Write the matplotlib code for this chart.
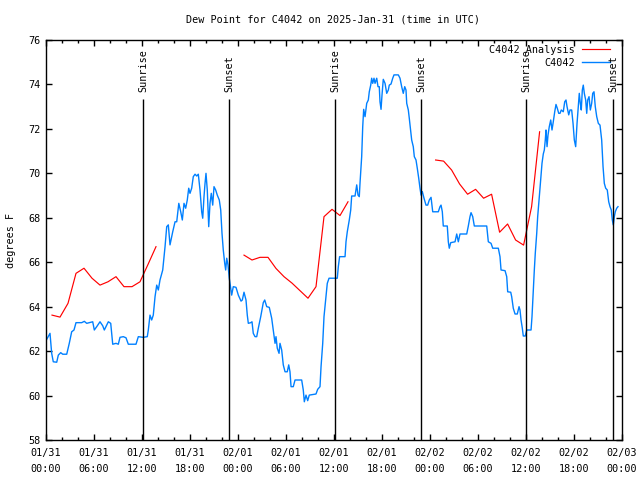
import numpy as np
import pandas as pd
import matplotlib
matplotlib.use("Agg")
import matplotlib.pyplot as plt
import matplotlib.dates as mdates
from matplotlib.lines import Line2D

plt.rcParams['font.family'] = ['DejaVu Sans Mono']
plt.rcParams['font.size'] = 7

START = pd.Timestamp("2025-01-31 00:00")

# C4042 observations (hours since 01/31 00:00 UTC, dew point in F)
obs_hours = [
    0.09, 0.5, 0.71, 0.91, 1.34, 1.54, 1.84, 2.09, 2.59, 2.91, 3.21, 3.5, 3.75, 4.46, 4.79,
    5.09, 5.84, 6.04, 6.34, 6.75, 7.09, 7.29, 7.79, 8.09, 8.34, 8.75, 9.04, 9.25, 9.66, 10.0,
    10.29, 11.25, 11.54, 12.16, 12.66, 12.79, 13.0, 13.21, 13.41, 13.63, 13.84, 14.04, 14.25,
    14.59, 14.88, 15.09, 15.29, 15.5, 15.84, 16.13, 16.34, 16.6, 16.84, 17.04, 17.25, 17.46,
    17.66, 17.84, 18.0, 18.21, 18.41, 18.63, 18.84, 19.04, 19.25, 19.46, 19.59, 19.75, 19.88,
    20.0, 20.16, 20.34, 20.5, 20.66, 20.84, 21.0, 21.21, 21.41, 21.66, 21.84, 22.0, 22.16,
    22.34, 22.46, 22.59, 22.75, 22.91, 23.21, 23.41, 23.75, 24.04, 24.38, 24.54, 24.75, 25.0,
    25.16, 25.29, 25.59, 25.75, 25.91, 26.13, 26.34, 26.54, 26.84, 27.16, 27.34, 27.59, 27.91,
    28.21, 28.41, 28.63, 28.75, 28.91, 29.13, 29.25, 29.46, 29.66, 29.88, 30.16, 30.34, 30.5,
    30.63, 30.91, 31.13, 31.96, 32.16, 32.29, 32.5, 32.71, 32.91, 33.75, 33.96, 34.25, 34.38,
    34.59, 34.75, 34.96, 35.16, 35.38, 36.41, 36.54, 36.7, 37.38, 37.5, 37.66, 37.91, 38.09,
    38.21, 38.63, 38.84, 39.0, 39.16, 39.25, 39.46, 39.59, 39.71, 39.88, 40.09, 40.29, 40.41,
    40.59, 40.71, 40.84, 41.0, 41.13, 41.34, 41.5, 41.66, 41.75, 41.88, 42.0, 42.16, 42.38,
    42.59, 42.79, 42.91, 43.13, 43.34, 43.5, 44.04, 44.25, 44.46, 44.66, 44.84, 45.0, 45.09,
    45.29, 45.41, 45.59, 45.71, 45.91, 46.04, 46.25, 46.41, 46.59, 46.75, 46.88, 47.04, 47.25,
    47.5, 47.71, 47.91, 48.13, 48.34, 49.04, 49.25, 49.38, 49.54, 49.66, 50.16, 50.29, 50.41,
    50.59, 51.13, 51.34, 51.54, 51.75, 52.59, 52.79, 53.0, 53.13, 53.34, 53.54, 55.09, 55.29,
    55.63, 55.84, 56.54, 56.75, 56.88, 57.38, 57.59, 57.71, 58.09, 58.21, 58.41, 58.63, 58.91,
    59.13, 59.25, 59.38, 59.54, 59.66, 59.91, 60.09, 60.63, 60.75, 60.91, 61.04, 61.16, 61.34,
    61.46, 61.59, 61.75, 61.88, 62.0, 62.16, 62.29, 62.41, 62.5, 62.63, 62.75, 62.91, 63.09,
    63.25, 63.41, 63.59, 63.75, 63.91, 64.09, 64.25, 64.41, 64.66, 64.84, 65.0, 65.13, 65.34,
    65.5, 65.71, 65.88, 66.04, 66.21, 66.38, 66.54, 66.66, 66.79, 66.91, 67.04, 67.16, 67.29,
    67.46, 67.59, 67.71, 67.88, 68.04, 68.21, 68.34, 68.5, 68.66, 68.84, 69.04, 69.25, 69.46,
    69.63, 69.79, 69.96, 70.16, 70.34, 70.5, 70.66, 70.79, 70.91, 71.04, 71.16, 71.34, 71.5,
]
obs_dewpt = [
    62.53, 62.8, 61.9, 61.52, 61.5, 61.82, 61.93, 61.86, 61.86, 62.35, 62.87, 62.95, 63.28, 63.28, 63.34,
    63.25, 63.32, 62.95, 63.1, 63.32, 63.14, 62.95, 63.32, 63.25, 62.31, 62.35, 62.31, 62.62, 62.65, 62.6,
    62.31, 62.31, 62.65, 62.62, 62.65, 62.95, 63.62, 63.4, 63.62, 64.45, 64.97, 64.75, 65.2,
    65.65, 66.7, 67.6, 67.68, 66.78, 67.37, 67.82, 67.82, 68.65, 68.27, 67.9, 68.65, 68.43,
    68.8, 69.33, 69.1, 69.33, 69.85, 69.96, 69.88, 69.96, 69.25, 68.27, 67.98, 68.95, 69.55,
    70.0, 69.25, 67.6, 68.65, 69.1, 68.57, 69.4, 69.25, 69.02, 68.8, 68.35, 67.3, 66.55,
    65.95, 65.65, 66.18, 65.88, 65.28, 64.52, 64.9, 64.87, 64.52, 64.25, 64.3, 64.65, 64.3,
    63.62, 63.25, 63.28, 63.32, 62.8, 62.65, 62.65, 63.03, 63.55, 64.18, 64.3, 64.0, 63.97,
    63.48, 62.95, 62.35, 62.65, 62.13, 61.9, 62.35, 62.05, 61.38, 61.07, 61.07, 61.38, 61.07,
    60.4, 60.4, 60.7, 60.7, 60.25, 59.72, 60.02, 59.77, 60.02, 60.07, 60.28, 60.4, 61.3,
    62.35, 63.55, 64.3, 65.05, 65.28, 65.28, 65.8, 66.25, 66.25, 66.92, 67.37, 67.9, 68.35,
    68.98, 68.98, 69.48, 69.02, 68.95, 69.55, 70.75, 72.1, 72.88, 72.55, 73.15, 73.3, 73.67,
    73.97, 74.28, 74.05, 74.28, 74.05, 74.28, 73.9, 73.9, 73.22, 72.88, 73.52, 74.23, 74.05,
    73.6, 73.75, 73.97, 74.02, 74.28, 74.43, 74.43, 74.28, 73.9, 73.6, 73.9, 73.75, 73.15,
    72.85, 72.48, 71.87, 71.5, 71.2, 70.75, 70.6, 70.23, 69.78, 69.33, 69.02, 69.18, 68.88,
    68.57, 68.57, 68.8, 68.92, 68.27, 68.27, 68.5, 68.57, 68.27, 67.63, 67.63, 66.92, 66.63,
    66.88, 66.92, 67.27, 66.92, 67.27, 67.27, 67.63, 68.05, 68.23, 68.05, 67.63, 67.63, 66.92,
    66.85, 66.63, 66.63, 66.25, 65.65, 65.62, 65.35, 64.67, 64.65, 64.45, 63.93, 63.67, 63.67,
    64.0, 63.85, 63.4, 63.03, 62.68, 62.68, 62.95, 62.95, 63.55, 64.75, 65.65, 66.4, 67.3,
    68.05, 68.65, 69.33, 69.92, 70.45, 70.87, 71.05, 71.5, 71.95, 71.2, 71.72, 72.1, 72.4,
    71.95, 72.32, 72.77, 73.1, 72.93, 72.7, 72.7, 72.85, 72.77, 73.22, 73.3, 73.0, 72.63,
    72.85, 72.85, 72.25, 71.5, 71.2, 72.25, 73.0, 73.6, 73.15, 72.85, 73.75, 73.97, 73.6,
    73.3, 72.7, 73.3, 73.45, 72.85, 73.15, 73.6, 73.67, 73.0, 72.55, 72.25, 72.17, 71.5,
    70.3, 69.55, 69.33, 69.25, 68.72, 68.5, 68.35, 67.9, 67.68, 68.05, 68.27, 68.43, 68.5,
]

# C4042 Analysis (hourly, nan marks the gaps)
ana_hours = [
    0.75, 1.75, 2.75, 3.75, 4.75, 5.75, 6.75, 7.75, 8.75, 9.75, 10.75, 11.75, 12.75, 13.75,
    19.0,
    24.75, 25.75, 26.75, 27.75, 28.75, 29.75, 30.75, 31.75, 32.75, 33.75, 34.75, 35.75, 36.75, 37.75,
    43.0,
    48.7, 49.7, 50.7, 51.7, 52.7, 53.7, 54.7, 55.7, 56.7, 57.7, 58.7, 59.7, 60.7, 61.7,
]
ana_dewpt = [
    63.62, 63.53, 64.15, 65.5, 65.73, 65.28, 64.97, 65.12, 65.35, 64.9, 64.9, 65.12, 65.9, 66.7,
    np.nan,
    66.32, 66.1, 66.22, 66.22, 65.72, 65.35, 65.06, 64.72, 64.38, 64.9, 68.05, 68.38, 68.1, 68.72,
    np.nan,
    70.6, 70.55, 70.15, 69.52, 69.06, 69.28, 68.88, 69.06, 67.35, 67.72, 67.0, 66.77, 68.5, 71.87,
]

sun_hours = [12.15, 22.9, 36.15, 46.9, 60.05, 70.9]
sun_labels = ["Sunrise", "Sunset", "Sunrise", "Sunset", "Sunrise", "Sunset"]


def to_time(hours):
    return START + pd.to_timedelta(np.array(hours), unit="h")


RED = "#ff0000"
BLUE = "#0080ff"

fig = plt.figure(figsize=(6.4, 4.8), dpi=100)
ax = fig.add_axes([46 / 640, 40 / 480, 576 / 640, 400 / 480])

ax.plot(to_time(ana_hours), ana_dewpt, color=RED, lw=0.85)
ax.plot(to_time(obs_hours), obs_dewpt, color=BLUE, lw=1.0)

# sunrise / sunset markers
for t, lab in zip(to_time(sun_hours), sun_labels):
    ax.vlines(t, 58, 73.35, color="black", lw=1.0, zorder=3)
    ax.text(t, 73.65, lab, rotation=90, ha="center", va="bottom", fontsize=7.3)

ax.set_xlim(START, START + pd.Timedelta(hours=72))
ax.set_ylim(58, 76)
ax.set_yticks(range(58, 77, 2))
ax.xaxis.set_major_locator(mdates.HourLocator(byhour=[0, 6, 12, 18]))
ax.xaxis.set_minor_locator(mdates.HourLocator(byhour=range(0, 24, 2)))
ax.xaxis.set_major_formatter(mdates.DateFormatter("%m/%d\n%H:%M"))
ax.tick_params(which="both", direction="in", top=True, right=True, width=1,
               labelsize=7.3, colors="black")
ax.tick_params(which="major", length=4.5, pad=4)
ax.tick_params(axis="x", which="major", pad=6)
ax.tick_params(which="minor", length=2.5)
for lab in ax.get_xticklabels():
    lab.set_linespacing(1.75)
for s in ax.spines.values():
    s.set_linewidth(1.0)

# legend, gnuplot style (text right aligned, sample after)
ax.text(0.918, 0.975, "C4042 Analysis", transform=ax.transAxes, ha="right", va="center",
        fontsize=7.3)
ax.text(0.918, 0.9425, "C4042", transform=ax.transAxes, ha="right", va="center", fontsize=7.3)
ax.add_line(Line2D([0.9306, 0.979], [0.977, 0.977], transform=ax.transAxes, color=RED, lw=0.85))
ax.add_line(Line2D([0.9306, 0.979], [0.945, 0.945], transform=ax.transAxes, color=BLUE, lw=1.0))

fig.text(333 / 640, 1 - 20 / 480, "Dew Point for C4042 on 2025-Jan-31 (time in UTC)",
         ha="center", va="center", fontsize=7.3)
fig.text(11 / 640, 0.5, "degrees F", rotation=90, ha="center", va="center", fontsize=7.3)

fig.savefig("out.png", dpi=100)
